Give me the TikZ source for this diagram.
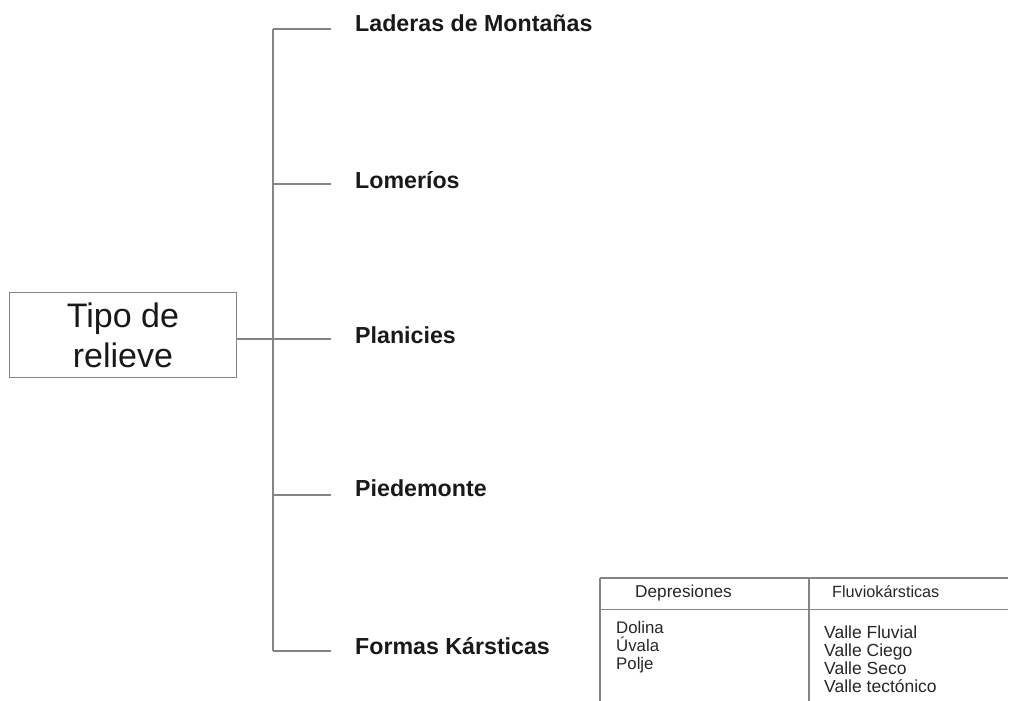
\documentclass[tikz,border=0pt]{standalone}
\usepackage{fontspec}
\setmainfont{Liberation Sans}
\begin{document}
\begin{tikzpicture}[x=1pt,y=-1pt,
  ln/.style={draw=black!48, line width=1.4pt},
  tl/.style={draw=black!48, line width=1.2pt},
  lbl/.style={anchor=base west, inner sep=0pt, text=black!90, font=\bfseries\fontsize{23.2}{26}\selectfont},
  cell/.style={anchor=base west, inner sep=0pt, text=black!85},
  lcell/.style={cell, font=\fontsize{16.8}{18}\selectfont},
  rcell/.style={cell, font=\fontsize{17.5}{18}\selectfont}]
\useasboundingbox (0,0) rectangle (1009,701);
% root box
\node[ln, minimum width=227pt, minimum height=85pt, inner sep=0pt, align=center,
      font=\fontsize{34}{40}\selectfont, text=black!90] (t) at (123,335) {Tipo de\\relieve};
% trunk and ticks
\foreach \i/\y in {1/29,2/184,3/339,4/495,5/651}{
  \coordinate (j\i) at (273,\y);
  \coordinate (e\i) at (331,\y);
}
\coordinate (s3) at (t.east |- e3);
\draw[ln] (j1) -- (j5);
\draw[ln] (j1) -- (e1);
\draw[ln] (j2) -- (e2);
\draw[ln] (j4) -- (e4);
\draw[ln] (j5) -- (e5);
\draw[ln] (s3) -- (e3);
% labels
\node[lbl] (l1) at (355,32) {Laderas de Montañas};
\node[lbl] (l2) at (355,188) {Lomeríos};
\node[lbl] (l3) at (355,343) {Planicies};
\node[lbl] (l4) at (355,496) {Piedemonte};
\node[lbl] (l5) at (355,654) {Formas Kársticas};
% table
\coordinate (ta) at (600,578);
\coordinate (tb) at (1008,578);
\coordinate (sa) at (600,609.5);
\coordinate (sb) at (1008,609.5);
\coordinate (ba) at (600,701);
\coordinate (da) at (809,578);
\coordinate (db) at (809,701);
\draw[tl] (ta) -- (tb);
\draw[tl] (sa) -- (sb);
\draw[tl] (ta) -- (ba);
\draw[tl] (da) -- (db);
\node[cell, font=\fontsize{17.2}{18}\selectfont] (h1) at (635,597) {Depresiones};
\node[cell, font=\fontsize{16.2}{18}\selectfont] (h2) at (832,597) {Fluviokársticas};
\node[lcell] (c1a) at (616,633.5) {Dolina};
\node[lcell] (c1b) at (616,651.5) {Úvala};
\node[lcell] (c1c) at (616,669.5) {Polje};
\node[rcell] (c2a) at (824,638) {Valle Fluvial};
\node[rcell] (c2b) at (824,656.3) {Valle Ciego};
\node[rcell] (c2c) at (824,674.5) {Valle Seco};
\node[rcell] (c2d) at (824,692.8) {Valle tectónico};
\end{tikzpicture}
\end{document}
